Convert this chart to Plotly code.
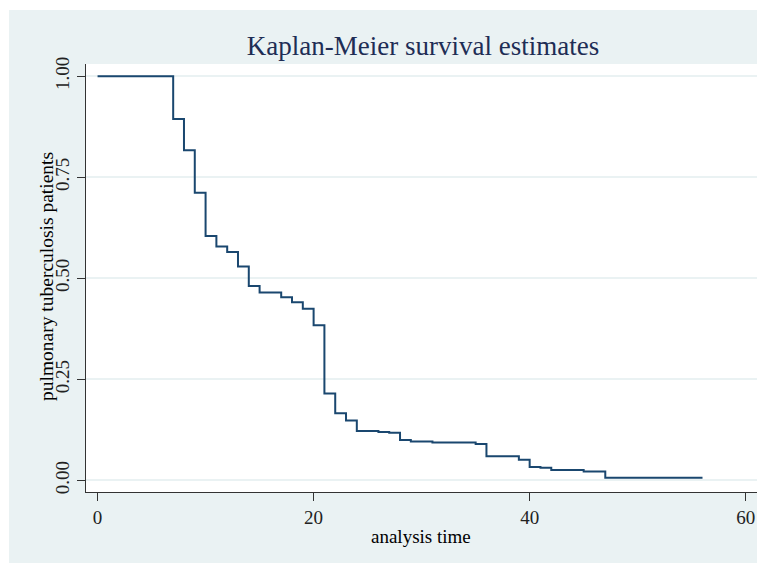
import plotly.graph_objects as go

# Kaplan-Meier step estimates
times = [0, 7, 8, 9, 10, 11, 12, 13, 14, 15, 17, 18, 19, 20, 21, 22, 23, 24,
         26, 27, 28, 29, 31, 35, 36, 39, 40, 41, 42, 45, 47, 56]
survival = [1.0, 0.894, 0.817, 0.712, 0.605, 0.579, 0.565, 0.529, 0.481, 0.465,
            0.453, 0.441, 0.425, 0.384, 0.215, 0.166, 0.148, 0.122, 0.120, 0.118,
            0.100, 0.096, 0.094, 0.090, 0.060, 0.051, 0.033, 0.031, 0.026, 0.022,
            0.0067, 0.0067]

x_ticks = [0, 20, 40, 60]
y_ticks = [0.0, 0.25, 0.5, 0.75, 1.0]
y_tick_labels = ["0.00", "0.25", "0.50", "0.75", "1.00"]

title_text = "Kaplan-Meier survival estimates"
x_title = "analysis time"
y_title = "pulmonary tuberculosis patients"

PANEL = "#EAF2F3"
LINE = "#1A476F"
FONT = "Liberation Serif, Times New Roman, serif"

fig = go.Figure()
fig.add_trace(go.Scatter(
    x=times, y=survival, mode="lines", line_shape="hv",
    line=dict(color=LINE, width=2), showlegend=False, hoverinfo="x+y"))

# the page body has an 8px default margin, so work in page pixels minus 8
OFF = 8
W, H = 765 - OFF, 563 - OFF
L, R, T, B = 86 - OFF, 759 - OFF, 64 - OFF, 492 - OFF
pw, ph = R - L, B - T

def px_x(p):
    return (p - OFF - L) / pw

def px_y(p):
    return (B - (p - OFF)) / ph

fig.update_layout(
    width=W, height=H, autosize=False,
    margin=dict(l=L, r=W - R, t=T, b=H - B, pad=0, autoexpand=False),
    paper_bgcolor="white",
    plot_bgcolor="white",
    font=dict(family=FONT, color="black", size=18),
    title=dict(text=title_text, x=px_x(423), xref="paper", xanchor="center",
               y=1 - (46 - OFF) / H, yref="container", yanchor="middle",
               font=dict(family=FONT, size=27, color="#1E2D55")),
    shapes=[
        dict(type="rect", xref="paper", yref="paper", layer="below",
             x0=px_x(9), x1=px_x(763), y0=px_y(563), y1=px_y(10),
             fillcolor=PANEL, line=dict(width=0)),
        dict(type="rect", xref="paper", yref="paper", layer="below",
             x0=0, x1=1, y0=0, y1=1, fillcolor="white", line=dict(width=0)),
    ],
    annotations=[
        dict(text=x_title, xref="paper", yref="paper", x=px_x(421), y=px_y(536),
             xanchor="center", yanchor="middle", showarrow=False,
             font=dict(family=FONT, size=19, color="black")),
        dict(text=y_title, xref="paper", yref="paper", x=px_x(46), y=px_y(277),
             xanchor="center", yanchor="middle", showarrow=False, textangle=-90,
             font=dict(family=FONT, size=19.5, color="black")),
    ],
)

fig.update_xaxes(
    range=[-1.07, 61.23], tickvals=x_ticks, ticktext=[str(v) for v in x_ticks],
    automargin=False,
    showgrid=False, zeroline=False, showline=True, linecolor="#333333", linewidth=1.2,
    ticks="outside", ticklen=8, tickcolor="#333333", tickwidth=1.2,
    tickfont=dict(family=FONT, size=19, color="#222222"))

fig.update_yaxes(
    range=[-0.0287, 1.0304], tickvals=y_ticks, ticktext=y_tick_labels,
    automargin=False,
    showgrid=True, gridcolor=PANEL, gridwidth=1.5, zeroline=False,
    showline=True, linecolor="#333333", linewidth=1.2,
    ticks="outside", ticklen=8, tickcolor="#333333", tickwidth=1.2, tickangle=-90,
    tickfont=dict(family=FONT, size=19, color="#222222"))

fig.write_html("out.html")
